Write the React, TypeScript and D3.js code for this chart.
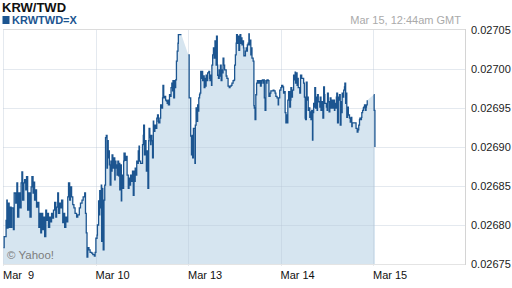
import React from 'react';
import * as d3 from 'd3';

const title = 'KRW/TWD';
const seriesName = 'KRWTWD=X';
const timestamp = 'Mar 15, 12:44am GMT';
const credit = '\u00A9 Yahoo!';
const xTickHours = [0, 24, 48, 72, 96];
const xTickLabels = ['Mar  9', 'Mar 10', 'Mar 13', 'Mar 14', 'Mar 15'];
const yTicks = [0.02675, 0.0268, 0.02685, 0.0269, 0.02695, 0.027, 0.02705];

// trading hours since Mar 9 00:00 GMT (weekend removed)
const hours = [
  0.1, 0.3, 0.8, 1.0, 1.1, 1.3, 1.6, 1.8, 2.1, 2.3, 2.7, 2.9, 3.3, 3.6, 3.8, 4.1, 4.4, 4.7, 4.9, 5.1,
  5.4, 5.6, 5.9, 6.1, 6.4, 6.7, 7.0, 7.3, 7.5, 7.8, 8.0, 8.2, 8.5, 8.7, 9.0, 9.3, 9.5, 9.8, 10.0, 10.3,
  10.5, 10.8, 11.1, 11.3, 11.6, 11.8, 12.1, 12.4, 12.6, 12.9, 13.1, 13.4, 13.7, 13.9, 14.2, 14.4, 14.7, 15.0, 15.2, 15.5,
  15.7, 16.0, 16.3, 16.5, 16.8, 17.0, 17.3, 17.5, 17.8, 18.1, 18.4, 18.7, 19.1, 19.4, 19.8, 20.1, 20.5, 20.8, 21.2, 21.4,
  21.6, 21.8, 22.0, 22.3, 22.6, 23.0, 23.3, 23.7, 23.9, 24.1, 24.4, 24.5, 24.8, 25.0, 25.1, 25.3, 25.5, 25.6, 25.7, 25.9,
  26.0, 26.2, 26.4, 26.6, 26.8, 27.0, 27.1, 27.3, 27.5, 27.6, 27.8, 28.0, 28.2, 28.3, 28.5, 28.8, 29.0, 29.1, 29.3, 29.5,
  29.6, 29.8, 30.0, 30.1, 30.3, 30.5, 30.7, 30.8, 31.0, 31.3, 31.4, 31.7, 32.0, 32.2, 32.5, 32.7, 32.8, 33.1, 33.4, 33.6,
  33.8, 34.0, 34.1, 34.3, 34.5, 34.7, 34.9, 35.1, 35.3, 35.4, 35.7, 36.2, 36.4, 36.5, 36.7, 36.9, 37.1, 37.2, 37.4, 37.6,
  37.8, 37.9, 38.1, 38.3, 38.4, 38.6, 38.8, 39.0, 39.1, 39.4, 39.7, 39.9, 40.1, 40.3, 40.4, 40.7, 40.9, 41.1, 41.4, 41.5,
  41.7, 41.9, 42.2, 42.4, 42.6, 42.8, 42.9, 43.2, 43.5, 43.6, 43.8, 44.0, 44.1, 44.3, 44.5, 44.7, 44.8, 45.0, 45.2, 45.4,
  45.5, 46.3, 48.1, 48.3, 48.7, 48.9, 49.1, 49.2, 49.4, 49.8, 49.9, 50.1, 50.3, 50.5, 50.6, 50.8, 51.0, 51.1, 51.3, 51.5,
  51.7, 51.8, 52.0, 52.2, 52.4, 52.5, 52.7, 52.9, 53.1, 53.4, 53.6, 53.7, 53.9, 54.1, 54.2, 54.4, 54.6, 54.8, 55.0, 55.1,
  55.3, 55.4, 55.6, 55.7, 55.9, 56.1, 56.2, 56.4, 56.6, 56.8, 56.9, 57.1, 57.3, 57.5, 57.9, 58.1, 58.4, 58.7, 58.9, 59.2,
  59.4, 59.7, 60.0, 60.1, 60.3, 60.5, 60.6, 60.8, 61.0, 61.2, 61.4, 61.5, 61.7, 61.9, 62.0, 62.2, 62.4, 62.5, 62.9, 63.1,
  63.2, 63.4, 63.6, 63.8, 63.9, 64.1, 64.3, 64.5, 64.6, 64.9, 65.1, 65.2, 65.4, 65.6, 65.8, 66.0, 66.3, 66.5, 66.8, 67.0,
  67.1, 67.3, 67.5, 67.6, 67.8, 68.0, 68.2, 68.3, 68.5, 68.8, 69.0, 69.3, 69.5, 70.1, 70.3, 70.6, 70.8, 71.1, 71.4, 71.5,
  71.8, 72.1, 72.3, 72.6, 72.8, 73.0, 73.2, 73.4, 73.5, 73.7, 73.9, 74.1, 74.4, 74.6, 74.7, 74.9, 75.1, 75.4, 75.6, 75.8,
  75.9, 76.1, 76.3, 76.5, 76.6, 77.0, 77.2, 77.5, 78.0, 78.2, 78.4, 78.5, 78.7, 78.9, 79.1, 79.2, 79.4, 79.6, 79.8, 79.9,
  80.1, 80.3, 80.4, 80.6, 80.8, 80.9, 81.1, 81.3, 81.5, 81.6, 81.8, 82.2, 82.3, 82.5, 82.7, 82.9, 83.0, 83.2, 83.4, 83.5,
  83.9, 84.1, 84.2, 84.4, 84.6, 84.8, 84.9, 85.1, 85.3, 85.5, 85.6, 85.8, 86.0, 86.1, 86.3, 86.5, 86.6, 86.8, 87.0, 87.2,
  87.3, 87.5, 87.7, 87.9, 88.0, 88.2, 88.4, 88.6, 88.7, 88.9, 89.1, 89.2, 89.4, 89.6, 89.9, 90.1, 90.3, 90.5, 90.6, 91.6,
  91.9, 92.1, 92.3, 92.5, 92.6, 92.8, 93.0, 93.1, 93.3, 93.5, 93.6, 93.8, 94.0, 94.2, 94.3, 94.5, 96.2, 96.3, 96.5,
];

const rates = [
  0.026771, 0.026785, 0.026806, 0.026832, 0.026796, 0.026828, 0.026797, 0.026823, 0.026797, 0.026822, 0.026794, 0.026841, 0.026828, 0.026854, 0.02681, 0.026841, 0.026822, 0.026854, 0.026868, 0.026832,
  0.026854, 0.026858, 0.026845, 0.026862, 0.026819, 0.026841, 0.02681, 0.026849, 0.026862, 0.026841, 0.026855, 0.026832, 0.026845, 0.026823, 0.026829, 0.026797, 0.026815, 0.02679, 0.026815, 0.026794,
  0.02681, 0.026785, 0.026819, 0.026806, 0.026815, 0.026797, 0.02681, 0.026804, 0.026815, 0.026809, 0.026819, 0.026829, 0.02681, 0.026823, 0.026841, 0.026815, 0.026828, 0.026822, 0.026832, 0.026803,
  0.026815, 0.026797, 0.02681, 0.026804, 0.026836, 0.026854, 0.026832, 0.026849, 0.026836, 0.026826, 0.026822, 0.026815, 0.02681, 0.026813, 0.026822, 0.026828, 0.026832, 0.026836, 0.026841, 0.026815,
  0.02679, 0.026759, 0.026771, 0.026768, 0.026765, 0.026764, 0.026762, 0.02676, 0.026765, 0.026783, 0.026787, 0.0268, 0.026831, 0.026813, 0.026844, 0.026822, 0.026851, 0.026779, 0.026847, 0.026831,
  0.026768, 0.026832, 0.026851, 0.026912, 0.026915, 0.026873, 0.026908, 0.026886, 0.026895, 0.026877, 0.026851, 0.026882, 0.026869, 0.02689, 0.026873, 0.026886, 0.026858, 0.026882, 0.026873, 0.026877,
  0.026864, 0.026882, 0.026863, 0.026879, 0.026845, 0.026877, 0.026831, 0.026864, 0.026847, 0.026882, 0.026892, 0.026883, 0.026888, 0.026864, 0.026847, 0.02686, 0.026851, 0.026864, 0.026856, 0.026869,
  0.026838, 0.026869, 0.026856, 0.026873, 0.026864, 0.026882, 0.026879, 0.026895, 0.026901, 0.026882, 0.026879, 0.026903, 0.026915, 0.026928, 0.02689, 0.026908, 0.026895, 0.026869, 0.026895, 0.026847,
  0.026908, 0.026924, 0.026912, 0.026903, 0.026915, 0.026908, 0.026886, 0.026933, 0.02692, 0.026928, 0.026924, 0.026937, 0.026941, 0.026933, 0.026931, 0.026937, 0.026954, 0.02695, 0.026963, 0.026979,
  0.026963, 0.026965, 0.02696, 0.026959, 0.026956, 0.02696, 0.026954, 0.026967, 0.026965, 0.026976, 0.026982, 0.026972, 0.026985, 0.026963, 0.026985, 0.026976, 0.026986, 0.02701, 0.027023, 0.027033,
  0.027044, 0.027044, 0.027018, 0.026963, 0.026914, 0.02689, 0.026915, 0.026886, 0.026924, 0.026879, 0.026928, 0.02695, 0.026933, 0.026954, 0.026946, 0.026963, 0.026967, 0.026969, 0.026997, 0.026988,
  0.026997, 0.026985, 0.026991, 0.026976, 0.026988, 0.026978, 0.026992, 0.026985, 0.026995, 0.026997, 0.026988, 0.026985, 0.026992, 0.026979, 0.027005, 0.027018, 0.027027, 0.027014, 0.027036, 0.027023,
  0.027005, 0.027042, 0.027005, 0.026992, 0.026988, 0.026999, 0.026991, 0.027005, 0.026985, 0.026999, 0.026995, 0.027014, 0.027005, 0.026999, 0.026991, 0.026988, 0.026978, 0.026976, 0.026978, 0.026979,
  0.026982, 0.026985, 0.026986, 0.027005, 0.027018, 0.027033, 0.027044, 0.027033, 0.027042, 0.027024, 0.027036, 0.027044, 0.027033, 0.02704, 0.027031, 0.027036, 0.027027, 0.027017, 0.027023, 0.027027,
  0.027023, 0.027031, 0.027033, 0.027045, 0.027031, 0.027037, 0.027018, 0.027027, 0.027014, 0.02701, 0.026953, 0.02695, 0.026935, 0.026967, 0.026982, 0.026985, 0.026982, 0.026985, 0.026978, 0.026982,
  0.026985, 0.026986, 0.026982, 0.026986, 0.026963, 0.026947, 0.026985, 0.026982, 0.026986, 0.026985, 0.026965, 0.026969, 0.026972, 0.026973, 0.026972, 0.026969, 0.026965, 0.026963, 0.026954, 0.026963,
  0.026973, 0.026976, 0.026979, 0.026977, 0.026969, 0.026971, 0.026944, 0.026931, 0.026941, 0.026931, 0.02696, 0.026971, 0.026951, 0.02696, 0.026976, 0.026964, 0.026973, 0.026992, 0.026986, 0.026996,
  0.026982, 0.026995, 0.026979, 0.026988, 0.026976, 0.026969, 0.026992, 0.026988, 0.026982, 0.026964, 0.026937, 0.026935, 0.026983, 0.02696, 0.026964, 0.026947, 0.02695, 0.026938, 0.026945, 0.026935,
  0.026947, 0.026909, 0.026944, 0.026956, 0.026951, 0.026976, 0.02695, 0.026964, 0.026947, 0.026967, 0.026958, 0.026951, 0.026964, 0.026947, 0.026958, 0.026951, 0.026937, 0.026977, 0.026967, 0.026956,
  0.026951, 0.026947, 0.026969, 0.026958, 0.026945, 0.026951, 0.026963, 0.02695, 0.02696, 0.026956, 0.02695, 0.02696, 0.026947, 0.026956, 0.02695, 0.026964, 0.026969, 0.026931, 0.026964, 0.02696,
  0.026967, 0.026928, 0.026958, 0.026944, 0.026969, 0.026964, 0.026973, 0.026977, 0.026982, 0.026956, 0.026969, 0.026938, 0.026951, 0.026941, 0.026937, 0.026932, 0.026938, 0.026926, 0.026931, 0.026924,
  0.026919, 0.026922, 0.026928, 0.026935, 0.026937, 0.026935, 0.026938, 0.026944, 0.026947, 0.02695, 0.026951, 0.026954, 0.026947, 0.026951, 0.026954, 0.02696, 0.026967, 0.026947, 0.0269,
];

// times after which the quote feed has no line (chart fills the gap only)
const lineBreaksAfter = [46.3, 94.5];

const FONT = '"Liberation Sans", Arial, Helvetica, sans-serif';

type P = { h: number; v: number };

export default function App() {
  const W = 512;
  const H = 288;
  const left = 3;
  const right = 465.5;
  const top = 30;
  const bottom = 264;

  const x = d3.scaleLinear().domain([0, 120]).range([left, right]);
  const y = d3.scaleLinear().domain([yTicks[0], yTicks[yTicks.length - 1]]).range([bottom, top]);
  const fmt = d3.format('.5f');

  const pts: P[] = hours.map((h, i) => ({ h, v: rates[i] }));

  const outline: P[] = [];
  pts.forEach((p, i) => {
    outline.push(p);
    const n = pts[i + 1];
    if (n && !lineBreaksAfter.includes(p.h)) outline.push({ h: n.h, v: p.v });
  });
  const areaPath = d3
    .area<P>()
    .x((d) => x(d.h))
    .y0(bottom)
    .y1((d) => y(d.v))(outline) as string;

  const runs: P[][] = [];
  let cur: P[] = [];
  pts.forEach((p) => {
    cur.push(p);
    if (lineBreaksAfter.includes(p.h)) {
      runs.push(cur);
      cur = [];
    }
  });
  if (cur.length) runs.push(cur);
  const lineGen = d3
    .line<P>()
    .x((d) => x(d.h))
    .y((d) => y(d.v))
    .curve(d3.curveStepAfter);

  const blue = '#1c5590';

  return (
    <svg
      width={W}
      height={H}
      style={{ position: 'absolute', left: 0, top: 0, background: '#fff' }}
      fontFamily={FONT}
    >
      <rect x={0} y={0} width={W} height={H} fill="#fff" />
      <path d={areaPath} fill="#d6e5f0" />
      {/* horizontal grid */}
      {yTicks.slice(1, -1).map((t) => (
        <line
          key={'h' + t}
          x1={left}
          x2={right}
          y1={Math.round(y(t)) + 0.5}
          y2={Math.round(y(t)) + 0.5}
          stroke="#b9c6d6"
          strokeOpacity={0.38}
        />
      ))}
      {/* vertical grid */}
      {xTickHours.map((t) => (
        <line
          key={'v' + t}
          x1={Math.round(x(t)) + 0.5}
          x2={Math.round(x(t)) + 0.5}
          y1={top - 1}
          y2={bottom + 2}
          stroke="#b9c6d6"
          strokeOpacity={0.38}
        />
      ))}
      {/* frame */}
      <line x1={left} x2={right} y1={top - 0.5} y2={top - 0.5} stroke="#dcdcdc" />
      <line x1={left} x2={right} y1={bottom + 0.5} y2={bottom + 0.5} stroke="#e4e4e4" />
      <line x1={465.5} x2={465.5} y1={top - 1} y2={bottom + 1} stroke="#d4d4d4" />

      {runs.map((r, i) => (
        <path key={'l' + i} d={lineGen(r) as string} fill="none" stroke={blue} strokeWidth={1.3} />
      ))}

      {/* y labels */}
      {yTicks.map((t) => (
        <text key={'yl' + t} x={471} y={y(t) + 4} fontSize={11} fill="#222">
          {fmt(t)}
        </text>
      ))}
      {/* x labels */}
      {xTickHours.map((t, i) => (
        <text key={'xl' + t} x={x(t)} y={279} fontSize={11} fill="#111" style={{ whiteSpace: 'pre' }}>
          {xTickLabels[i]}
        </text>
      ))}

      <text x={2} y={12} fontSize={13} fontWeight="bold" fill="#111">
        {title}
      </text>
      <rect x={2.5} y={16} width={7} height={8} fill={blue} />
      <text x={12} y={24} fontSize={11} fontWeight="bold" fill={blue}>
        {seriesName}
      </text>
      <text x={461} y={24} fontSize={11} fill="#aaaaaa" textAnchor="end">
        {timestamp}
      </text>
      <text x={7} y={259} fontSize={11.5} fill="#7d7d7d">
        {credit}
      </text>
    </svg>
  );
}
